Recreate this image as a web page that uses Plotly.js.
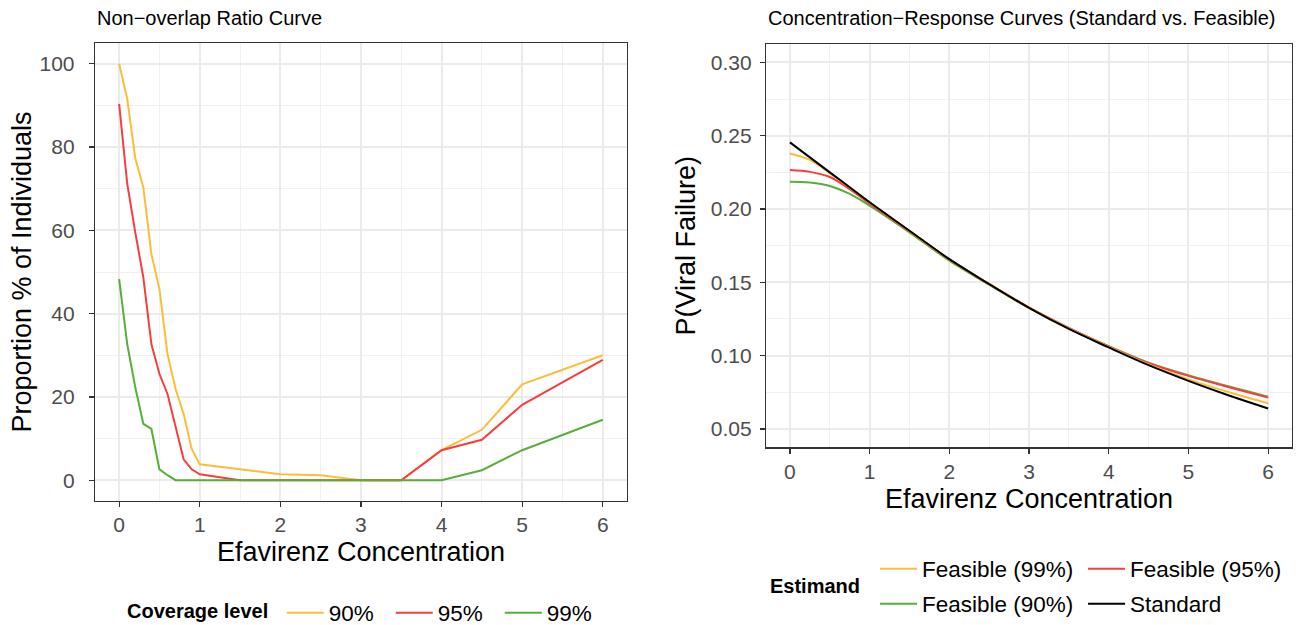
<!DOCTYPE html>
<html><head><meta charset="utf-8">
<script src="https://cdn.plot.ly/plotly-3.0.1.min.js"></script>
<style>html,body{margin:0;padding:0;background:#fff}#chart{width:1301px;height:625px}</style>
</head><body><div id="chart"></div>
<script>
// ---- Left panel data: Non-overlap ratio curve ----
const coverageX = [0,0.1,0.2,0.3,0.4,0.5,0.6,0.7,0.8,0.9,1,1.5,2,2.5,3,3.5,4,4.5,5,6];
const cov90 = [100,91.6,77.3,70.3,54.3,45.9,30.3,21.9,15.9,7.5,3.8,2.6,1.4,1.2,0,0,7.2,12.1,23.0,30.0];
const cov95 = [90.4,71.2,59.5,48.7,32.7,25.5,20.7,13.1,5.0,2.6,1.4,0,0,0,0,0,7.2,9.7,18.1,28.9];
const cov99 = [48.3,32.7,22.3,13.5,12.3,2.6,1.2,0,0,0,0,0,0,0,0,0,0,2.4,7.2,14.5];
const coverageNames = ['90%','95%','99%'];

// ---- Right panel data: concentration-response curves ----
const concX = [0,0.25,0.5,0.75,1,1.5,2,2.5,3,3.5,4,4.5,5,5.5,6];
const standard = [0.2454,0.2352,0.2250,0.2148,0.2046,0.1852,0.1658,0.1488,0.1326,0.1182,0.1056,0.0935,0.0828,0.0730,0.0640];
const feas99 = [0.2379,0.2335,0.2245,0.2147,0.2045,0.1851,0.1657,0.1489,0.1327,0.1185,0.1060,0.0940,0.0838,0.0752,0.0675];
const feas95 = [0.2266,0.2253,0.2218,0.2135,0.2036,0.1848,0.1656,0.1489,0.1329,0.1189,0.1063,0.0948,0.0862,0.0786,0.0714];
const feas90 = [0.2186,0.2180,0.2157,0.2103,0.2023,0.1841,0.1648,0.1484,0.1325,0.1188,0.1064,0.0952,0.0866,0.0791,0.0720];

const YEL = '#FFBC3A', RED = '#F53F3F', GRN = '#58AE3A', BLK = '#000000';
const FONT = 'Liberation Sans, Arial, sans-serif';

const traces = [
  {x: coverageX, y: cov90, name: coverageNames[0], type:'scatter', mode:'lines', line:{color:YEL,width:2}, xaxis:'x', yaxis:'y', legend:'legend'},
  {x: coverageX, y: cov95, name: coverageNames[1], type:'scatter', mode:'lines', line:{color:RED,width:2}, xaxis:'x', yaxis:'y', legend:'legend'},
  {x: coverageX, y: cov99, name: coverageNames[2], type:'scatter', mode:'lines', line:{color:GRN,width:2}, xaxis:'x', yaxis:'y', legend:'legend'},
  {x: concX, y: feas90, name:'Feasible (90%)', type:'scatter', mode:'lines', line:{color:GRN,width:2,shape:'spline'}, xaxis:'x2', yaxis:'y2', legend:'legend3', legendrank:1},
  {x: concX, y: feas95, name:'Feasible (95%)', type:'scatter', mode:'lines', line:{color:RED,width:2,shape:'spline'}, xaxis:'x2', yaxis:'y2', legend:'legend2', legendrank:2},
  {x: concX, y: feas99, name:'Feasible (99%)', type:'scatter', mode:'lines', line:{color:YEL,width:2,shape:'spline'}, xaxis:'x2', yaxis:'y2', legend:'legend2', legendrank:1},
  {x: concX, y: standard, name:'Standard', type:'scatter', mode:'lines', line:{color:BLK,width:2,shape:'spline'}, xaxis:'x2', yaxis:'y2', legend:'legend3', legendrank:2}
];

function axis(extra){
  return Object.assign({
    showline:true, mirror:true, linecolor:'#333333', linewidth:1.2,
    ticks:'outside', ticklen:5, tickwidth:1.2, tickcolor:'#333333',
    tickfont:{family:FONT,size:21,color:'#4D4D4D'},
    showgrid:true, gridcolor:'#EBEBEB', gridwidth:2, zeroline:false,
    tickmode:'linear', automargin:false
  }, extra);
}
function minor(d){ return {dtick:d, showgrid:true, gridcolor:'#F0F0F0', gridwidth:1, ticks:''}; }

const legendFont = {family:FONT,size:22.5,color:'#000'};

const layout = {
  width:1301, height:625,
  margin:{l:0,r:0,t:0,b:0,autoexpand:false},
  paper_bgcolor:'#fff', plot_bgcolor:'#fff',
  font:{family:FONT,color:'#000'},
  xaxis: axis({domain:[0.0730,0.4819], anchor:'y', range:[-0.3,6.3], tick0:0, dtick:1, minor:minor(0.5),
    title:{text:'Efavirenz Concentration', font:{family:FONT,size:27,color:'#000'}, standoff:6}}),
  yaxis: axis({domain:[0.1984,0.9312], anchor:'x', range:[-5,105], tick0:0, dtick:20, minor:minor(10),
    ticklabelstandoff:10,
    title:{text:'Proportion % of Individuals', font:{family:FONT,size:27,color:'#000'}, standoff:0}}),
  xaxis2: axis({domain:[0.5888,0.9931], anchor:'y2', range:[-0.3,6.3], tick0:0, dtick:1, minor:minor(0.5),
    title:{text:'Efavirenz Concentration', font:{family:FONT,size:27,color:'#000'}, standoff:7}}),
  yaxis2: axis({domain:[0.2843,0.9296], anchor:'x2', range:[0.0375,0.3125], tick0:0.05, dtick:0.05, tickformat:'.2f', minor:minor(0.025),
    ticklabelstandoff:4,
    title:{text:'P(Viral Failure)', font:{family:FONT,size:27,color:'#000'}, standoff:7}}),
  legend:{orientation:'h', x:0.0961, xanchor:'left', y:0.0192, yanchor:'middle', bgcolor:'rgba(0,0,0,0)',
    font:legendFont, entrywidth:57, itemwidth:37,
    title:{text:'Coverage level&nbsp;', side:'left', font:{family:FONT,size:20,color:'#000',weight:'bold'}}},
  legend2:{orientation:'h', x:0.6726, xanchor:'left', y:0.0896, yanchor:'middle', bgcolor:'rgba(0,0,0,0)',
    font:legendFont, entrywidth:156, itemwidth:37},
  legend3:{orientation:'h', x:0.6726, xanchor:'left', y:0.0336, yanchor:'middle', bgcolor:'rgba(0,0,0,0)',
    font:legendFont, entrywidth:156, itemwidth:37},
  annotations:[
    {text:'Non\u2212overlap Ratio Curve', xref:'paper', yref:'paper', x:0.0730, y:0.9712, xanchor:'left', yanchor:'middle', showarrow:false, font:{family:FONT,size:20,color:'#000'}},
    {text:'Concentration\u2212Response Curves (Standard vs. Feasible)', xref:'paper', yref:'paper', x:0.5888, y:0.9712, xanchor:'left', yanchor:'middle', showarrow:false, font:{family:FONT,size:20,color:'#000'}},
    {text:'Estimand', xref:'paper', yref:'paper', x:0.5903, y:0.0624, xanchor:'left', yanchor:'middle', showarrow:false, font:{family:FONT,size:20,color:'#000',weight:'bold'}}
  ]
};

Plotly.newPlot('chart', traces, layout, {displayModeBar:false, staticPlot:true});
</script>
</body></html>
